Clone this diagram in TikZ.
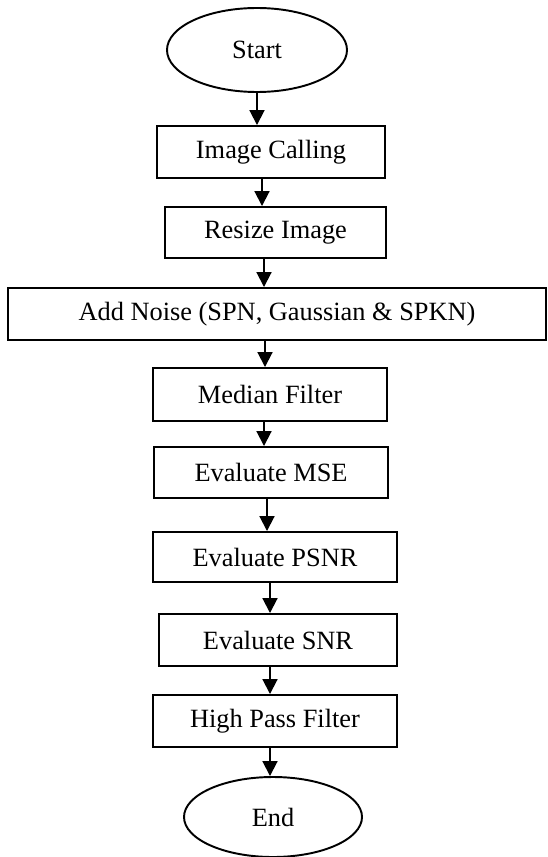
\documentclass[tikz,border=0pt]{standalone}
\usepackage{fontspec}
\setmainfont{Liberation Serif}
\usetikzlibrary{shapes.geometric,arrows.meta}

\begin{document}
\begin{tikzpicture}[scale=0.2]
        \tikzstyle{every node}+=[inner sep=0pt, font=\fontsize{15}{17}\selectfont]
        \tikzstyle{box}=[draw=black, line width=1.1pt, rectangle, minimum height=1.04cm]
        \tikzstyle{term}=[draw=black, line width=1.1pt, ellipse]
        \tikzstyle{flow}=[black, line width=1.1pt, -{Triangle[width=8.5pt,length=8.5pt]}]
        \useasboundingbox (0,0) rectangle (54.7,-85.7);
        \node [term, minimum width=3.6cm, minimum height=1.68cm] (start) at (25.7,-5) {Start};
        \node [box, minimum width=4.56cm] (calling) at (27.1,-15.2) {Image Calling};
        \node [box, minimum width=4.42cm, minimum height=1.02cm] (resize) at (27.55,-23.25) {Resize Image};
        \node [box, minimum width=10.76cm] (noise) at (27.7,-31.4) {Add Noise (SPN, Gaussian \& SPKN)};
        \node [box, minimum width=4.68cm, minimum height=1.06cm] (median) at (27,-39.45) {Median Filter};
        \node [box, minimum width=4.68cm, minimum height=1.02cm] (mse) at (27.1,-47.25) {Evaluate MSE};
        \node [box, minimum width=4.88cm, minimum height=1cm] (psnr) at (27.5,-55.7) {Evaluate PSNR};
        \node [box, minimum width=4.76cm] (snr) at (27.8,-64) {Evaluate SNR};
        \node [box, minimum width=4.88cm] (highpass) at (27.5,-72.1) {High Pass Filter};
        \node [term, minimum width=3.56cm, minimum height=1.6cm] (stop) at (27.3,-81.7) {End};
        \draw [flow] (start.south) -- (calling.north -| start.south);
        \draw [flow] (calling.south -| 26.2,0) -- (resize.north -| 26.2,0);
        \draw [flow] (resize.south -| 26.4,0) -- (noise.north -| 26.4,0);
        \draw [flow] (noise.south -| 26.5,0) -- (median.north -| 26.5,0);
        \draw [flow] (median.south -| 26.4,0) -- (mse.north -| 26.4,0);
        \draw [flow] (mse.south -| 26.7,0) -- (psnr.north -| 26.7,0);
        \draw [flow] (psnr.south -| 27,0) -- (snr.north -| 27,0);
        \draw [flow] (snr.south -| 27,0) -- (highpass.north -| 27,0);
        \draw [flow] (highpass.south -| 27,0) -- (stop.north -| 27,0);
\end{tikzpicture}
\end{document}
